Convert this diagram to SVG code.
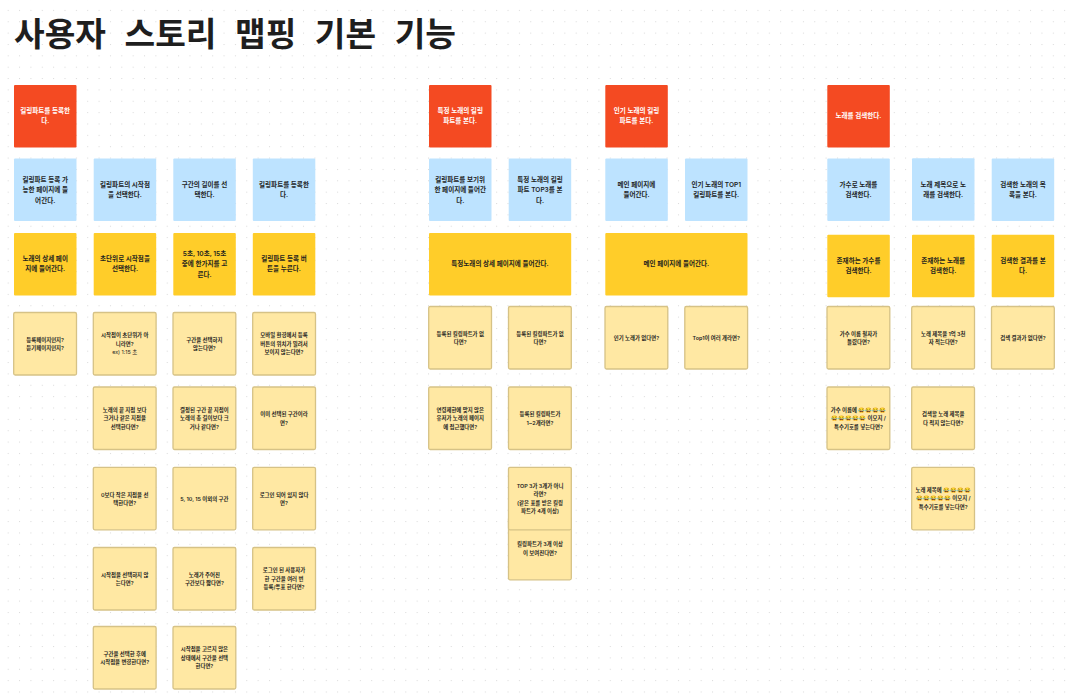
<svg xmlns="http://www.w3.org/2000/svg" width="1067" height="698" viewBox="0 0 1067 698">
<style>
text{font-family:"Inter","Noto Sans CJK KR",sans-serif;text-anchor:middle;font-weight:600}
.n text{font-size:6.55px;fill:#1e1e1e}
.q text{font-size:5.4px;fill:#1e1e1e}
.r rect{fill:#f44a22}.r text{fill:#fff}
.b rect{fill:#bde3ff}
.y rect{fill:#ffcd29}
.q rect{fill:#ffe8a3;stroke:#d6c286;stroke-width:1.3}
</style>
<defs><pattern id="dots" x="7.7" y="9.9" width="11.36" height="11.36" patternUnits="userSpaceOnUse"><rect width="1" height="1" fill="#d9d9d9"/></pattern></defs>
<rect width="1067" height="698" fill="#fff"/>
<rect width="1067" height="698" fill="url(#dots)"/>
<text id="title" x="235" y="46" style="font-family:'Noto Sans CJK KR',sans-serif;font-size:33.3px;font-weight:700;word-spacing:11px" fill="#1e1e1e">사용자 스토리 맵핑 기본 기능</text>
<g id="connectors"/>

<g id="n01" class="n r"><rect x="14" y="85" width="62.5" height="62.5" rx="1"/><text x="45.2" y="113">킬링파트를 등록한</text><text x="45.2" y="123">다.</text></g>
<g id="n02" class="n r"><rect x="429" y="85" width="62.5" height="62.5" rx="1"/><text x="460.2" y="113">특정 노래의 킬링</text><text x="460.2" y="123">파트를 본다.</text></g>
<g id="n03" class="n r"><rect x="605.300" y="85" width="62.5" height="62.5" rx="1"/><text x="636.5" y="113">인기 노래의 킬링</text><text x="636.5" y="123">파트를 본다.</text></g>
<g id="n04" class="n r"><rect x="827.300" y="85" width="62.5" height="62.5" rx="1"/><text x="858.5" y="118">노래를 검색한다.</text></g>

<g id="n05" class="n b"><rect x="14" y="158.500" width="62.5" height="62.500" rx="1"/><text x="45.2" y="182">킬링파트 등록 가</text><text x="45.2" y="192">능한 페이지에 들</text><text x="45.2" y="202.500">어간다.</text></g>
<g id="n06" class="n b"><rect x="93.700" y="158.500" width="62.5" height="62.500" rx="1"/><text x="125" y="187">킬링파트의 시작점</text><text x="125" y="197">을 선택한다.</text></g>
<g id="n07" class="n b"><rect x="173.300" y="158.500" width="62.5" height="62.500" rx="1"/><text x="204.500" y="187">구간의 길이를 선</text><text x="204.500" y="197">택한다.</text></g>
<g id="n08" class="n b"><rect x="252.800" y="158.500" width="62.5" height="62.500" rx="1"/><text x="284" y="187">킬링파트를 등록한</text><text x="284" y="197">다.</text></g>
<g id="n09" class="n b"><rect x="429" y="158.500" width="62.5" height="62.500" rx="1"/><text x="460.200" y="182">킬링파트를 보기위</text><text x="460.200" y="192">한 페이지에 들어간</text><text x="460.200" y="202.500">다.</text></g>
<g id="n10" class="n b"><rect x="508.700" y="158.500" width="62.5" height="62.500" rx="1"/><text x="540" y="182">특정 노래의 킬링</text><text x="540" y="192">파트 TOP3를 본</text><text x="540" y="202.500">다.</text></g>
<g id="n11" class="n b"><rect x="605.300" y="158.500" width="62.5" height="62.500" rx="1"/><text x="636.500" y="187">메인 페이지에</text><text x="636.500" y="197">들어간다.</text></g>
<g id="n12" class="n b"><rect x="685" y="158.500" width="62.5" height="62.500" rx="1"/><text x="716.200" y="187">인기 노래의 TOP1</text><text x="716.200" y="197">킬링파트를 본다.</text></g>
<g id="n13" class="n b"><rect x="827.300" y="158.500" width="62.5" height="62.500" rx="1"/><text x="858.500" y="187">가수로 노래를</text><text x="858.500" y="197">검색한다.</text></g>
<g id="n14" class="n b"><rect x="912" y="158.300" width="62.5" height="62.500" rx="1"/><text x="943.200" y="187">노래 제목으로 노</text><text x="943.200" y="197">래를 검색한다.</text></g>
<g id="n15" class="n b"><rect x="991.700" y="158.500" width="62.5" height="62.500" rx="1"/><text x="1023" y="187">검색한 노래의 목</text><text x="1023" y="197">록을 본다.</text></g>

<g id="n16" class="n y"><rect x="14" y="233" width="62.5" height="62.500" rx="1"/><text x="45.200" y="261">노래의 상세 페이</text><text x="45.200" y="271">지에 들어간다.</text></g>
<g id="n17" class="n y"><rect x="93.700" y="233" width="62.5" height="62.500" rx="1"/><text x="125" y="261">초단위로 시작점을</text><text x="125" y="271">선택한다.</text></g>
<g id="n18" class="n y"><rect x="173.300" y="233" width="62.5" height="62.500" rx="1"/><text x="204.500" y="256">5초, 10초, 15초</text><text x="204.500" y="266">중에 한가지를 고</text><text x="204.500" y="276.500">른다.</text></g>
<g id="n19" class="n y"><rect x="252.800" y="233" width="62.5" height="62.500" rx="1"/><text x="284" y="261">킬링파트 등록 버</text><text x="284" y="271">튼을 누른다.</text></g>
<g id="n20" class="n y"><rect x="429" y="233" width="142.200" height="62.500" rx="1"/><text x="500" y="266">특정노래의 상세 페이지에 들어간다.</text></g>
<g id="n21" class="n y"><rect x="605.300" y="233" width="142.200" height="62.500" rx="1"/><text x="676.400" y="266">메인 페이지에 들어간다.</text></g>
<g id="n22" class="n y"><rect x="827.300" y="234.800" width="62.5" height="62.500" rx="1"/><text x="858.500" y="263">존재하는 가수를</text><text x="858.500" y="273">검색한다.</text></g>
<g id="n23" class="n y"><rect x="912" y="234.800" width="62.5" height="62.500" rx="1"/><text x="943.200" y="263">존재하는 노래를</text><text x="943.200" y="273">검색한다.</text></g>
<g id="n24" class="n y"><rect x="991.700" y="234.800" width="62.5" height="62.500" rx="1"/><text x="1023" y="263">검색한 결과를 본</text><text x="1023" y="273">다.</text></g>

<g id="q01" class="q"><rect x="13.700" y="312.500" width="62.800" height="62.500" rx="1.500"/><text x="45.200" y="341.500">등록페이지인지?</text><text x="45.200" y="350">듣기페이지인지?</text></g>
<g id="q02" class="q"><rect x="93.300" y="312.500" width="62.800" height="62.500" rx="1.500"/><text x="124.700" y="337">시작점이 초단위가  아</text><text x="124.700" y="345.500">니라면?</text><text x="124.700" y="354" style="font-weight:400">ex) 1:15 초</text></g>
<g id="q03" class="q"><rect x="173" y="312.500" width="62.800" height="62.500" rx="1.500"/><text x="204.400" y="341.500">구간을 선택하지</text><text x="204.400" y="350">않는다면?</text></g>
<g id="q04" class="q"><rect x="252.700" y="312.500" width="62.800" height="62.500" rx="1.500"/><text x="284" y="337">모바일 환경에서 등록</text><text x="284" y="345.500">버튼의 위치가 밀려서</text><text x="284" y="354">보이지 않는다면?</text></g>

<g id="q05" class="q"><rect x="93.300" y="387" width="62.800" height="62.500" rx="1.500"/><text x="124.700" y="411.500">노래의 끝 지점 보다</text><text x="124.700" y="420">크거나 같은 지점을</text><text x="124.700" y="428.500">선택한다면?</text></g>
<g id="q06" class="q"><rect x="173" y="387" width="62.800" height="62.500" rx="1.500"/><text x="204.400" y="411.500">결정된 구간 끝 지점이</text><text x="204.400" y="420">노래의 총 길이보다 크</text><text x="204.400" y="428.500">거나 같다면?</text></g>
<g id="q07" class="q"><rect x="252.700" y="387" width="62.800" height="62.500" rx="1.500"/><text x="284" y="416">이미 선택된 구간이라</text><text x="284" y="424.500">면?</text></g>

<g id="q08" class="q"><rect x="93.300" y="467.300" width="62.800" height="62.500" rx="1.500"/><text x="124.700" y="496.500">0보다 작은 지점을 선</text><text x="124.700" y="505">택한다면?</text></g>
<g id="q09" class="q"><rect x="173" y="467.300" width="62.800" height="62.500" rx="1.500"/><text x="204.400" y="500.500">5, 10, 15 이외의 구간</text></g>
<g id="q10" class="q"><rect x="252.700" y="467.300" width="62.800" height="62.500" rx="1.500"/><text x="284" y="496.500">로그인 되어 있지 않다</text><text x="284" y="505">면?</text></g>

<g id="q11" class="q"><rect x="93.300" y="547.500" width="62.800" height="62.500" rx="1.500"/><text x="124.700" y="576.500">시작점을 선택하지 않</text><text x="124.700" y="585">는다면?</text></g>
<g id="q12" class="q"><rect x="173" y="547.500" width="62.800" height="62.500" rx="1.500"/><text x="204.400" y="576.500">노래가 주어진</text><text x="204.400" y="585">구간보다 짧다면?</text></g>
<g id="q13" class="q"><rect x="252.700" y="547.500" width="62.800" height="62.500" rx="1.500"/><text x="284" y="572">로그인 된 사용자가</text><text x="284" y="580.500">한 구간을 여러 번</text><text x="284" y="589">등록/투표 한다면?</text></g>

<g id="q14" class="q"><rect x="93.300" y="626.500" width="62.800" height="62.500" rx="1.500"/><text x="124.700" y="655.500">구간을 선택한 후에</text><text x="124.700" y="664">시작점을 변경한다면?</text></g>
<g id="q15" class="q"><rect x="173" y="626.500" width="62.800" height="62.500" rx="1.500"/><text x="204.400" y="651">시작점을 고르지 않은</text><text x="204.400" y="659.500">상태에서 구간을 선택</text><text x="204.400" y="668">한다면?</text></g>

<g id="q16" class="q"><rect x="428.700" y="306.500" width="62.800" height="62.500" rx="1.500"/><text x="460.200" y="335.500">등록된 킬링파트가 없</text><text x="460.200" y="344">다면?</text></g>
<g id="q17" class="q"><rect x="508.500" y="306.500" width="62.800" height="62.500" rx="1.500"/><text x="540" y="335.500">등록된 킬링파트가 없</text><text x="540" y="344">다면?</text></g>
<g id="q18" class="q"><rect x="428.700" y="387" width="62.800" height="62.500" rx="1.500"/><text x="460.200" y="411.500">연령제한에 맞지 않은</text><text x="460.200" y="420">유저가 노래의 페이지</text><text x="460.200" y="428.500">에 접근했다면?</text></g>
<g id="q19" class="q"><rect x="508.500" y="387" width="62.800" height="62.500" rx="1.500"/><text x="540" y="416">등록된 킬링파트가</text><text x="540" y="424.500">1~2개라면?</text></g>
<g id="q21" class="q"><rect x="508.500" y="517.300" width="62.800" height="62.500" rx="1.500"/><text x="540" y="546">킬링파트가 3개 이상</text><text x="540" y="554.500">이 보여진다면?</text></g>
<g id="q20" class="q"><rect x="508.500" y="467.300" width="62.800" height="62.500" rx="1.500"/><text x="540" y="487.500">TOP 3가 3개가 아니</text><text x="540" y="496">라면?</text><text x="540" y="504.500">(같은 표를 받은 킬링</text><text x="540" y="513">파트가 4개 이상)</text></g>

<g id="q22" class="q"><rect x="605" y="306.500" width="62.800" height="62.500" rx="1.500"/><text x="636.500" y="340">인기 노래가 없다면?</text></g>
<g id="q23" class="q"><rect x="684.800" y="306.500" width="62.800" height="62.500" rx="1.500"/><text x="716.200" y="340">Top1이 여러 개라면?</text></g>

<g id="q24" class="q"><rect x="827" y="306.500" width="62.800" height="62.500" rx="1.500"/><text x="858.500" y="335.500">가수 이름 철자가</text><text x="858.500" y="344">틀렸다면?</text></g>
<g id="q25" class="q"><rect x="911.700" y="306.500" width="62.800" height="62.500" rx="1.500"/><text x="943.200" y="335.500">노래 제목을 1억 3천</text><text x="943.200" y="344">자 적는다면?</text></g>
<g id="q26" class="q"><rect x="991.500" y="306.500" width="62.800" height="62.500" rx="1.500"/><text x="1023" y="340">검색 결과가 없다면?</text></g>
<g id="q27" class="q"><rect x="827" y="387" width="62.800" height="62.500" rx="1.500"/><text x="858.500" y="411.500">가수 이름에 😂😂😂😂</text><text x="858.500" y="420">😂😂😂😂😂 이모지 /</text><text x="858.500" y="428.500">특수기호를 넣는다면?</text></g>
<g id="q28" class="q"><rect x="911.700" y="387" width="62.800" height="62.500" rx="1.500"/><text x="943.200" y="416">검색할 노래 제목을</text><text x="943.200" y="424.500">다 적지 않는다면?</text></g>
<g id="q29" class="q"><rect x="911.700" y="467.300" width="62.800" height="62.500" rx="1.500"/><text x="943.200" y="491.500">노래 제목에 😂😂😂😂</text><text x="943.200" y="500">😂😂😂😂😂 이모지 /</text><text x="943.200" y="508.500">특수기호를 넣는다면?</text></g>
</svg>
